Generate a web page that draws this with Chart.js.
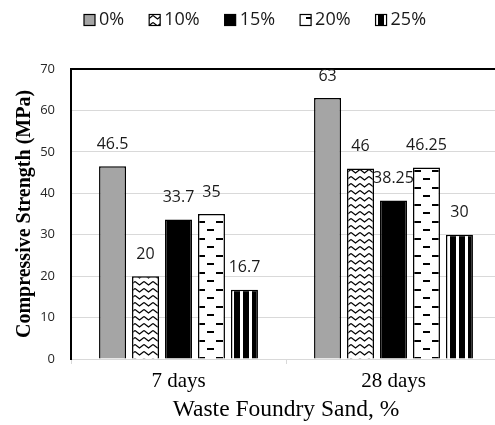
<!DOCTYPE html>
<html>
<head>
<meta charset="utf-8">
<script src="https://cdn.jsdelivr.net/npm/chart.js@4.4.0/dist/chart.umd.min.js"></script>
<style>
  html, body { margin: 0; padding: 0; overflow: hidden; background: #fff; }
  canvas { display: block; }
</style>
</head>
<body>
<canvas id="wfsChart" width="510" height="425"></canvas>
<script>
const ages = ["7 days", "28 days"];
const mixLabels = ["0%", "10%", "15%", "20%", "25%"];
const wfs0 = [46.5, 63];
const wfs10 = [20, 46];
const wfs15 = [33.7, 38.25];
const wfs20 = [35, 46.25];
const wfs25 = [16.7, 30];
const yTicks = [0, 10, 20, 30, 40, 50, 60, 70];

function makePattern(w, h, draw) {
  const c = document.createElement("canvas");
  c.width = w;
  c.height = h;
  const g = c.getContext("2d");
  g.fillStyle = "#fff";
  g.fillRect(0, 0, w, h);
  g.fillStyle = "#000";
  g.strokeStyle = "#000";
  draw(g);
  return g.createPattern(c, "repeat");
}

// zigzag waves
const zigzag = makePattern(9, 7, (g) => {
  g.lineWidth = 1.3;
  g.beginPath();
  g.moveTo(0, 1.5);
  g.lineTo(4.5, 5);
  g.lineTo(9, 1.5);
  g.stroke();
});

// staggered horizontal dashes
const dashes = makePattern(18, 17, (g) => {
  g.fillRect(0, 0, 7, 2);
  g.fillRect(9, 8, 7, 2);
});

// vertical stripes
const stripes = makePattern(9, 1, (g) => {
  g.fillRect(0, 0, 6, 1);
});

const fills = ["#a5a5a5", zigzag, "#000", dashes, stripes];
const series = [wfs0, wfs10, wfs15, wfs20, wfs25];

const valueLabels = {
  id: "valueLabels",
  afterDatasetsDraw(chart) {
    const ctx = chart.ctx;
    ctx.save();
    ctx.font = "16px 'Open Sans'";
    ctx.fillStyle = "#1a1a1a";
    ctx.textAlign = "center";
    ctx.textBaseline = "middle";
    chart.data.datasets.forEach((ds, i) => {
      chart.getDatasetMeta(i).data.forEach((bar, j) => {
        ctx.fillText(String(ds.data[j]), bar.x, bar.y - 22);
      });
    });
    ctx.restore();
  },
};

const topLegend = {
  id: "topLegend",
  afterDraw(chart) {
    const ctx = chart.ctx;
    ctx.save();
    ctx.font = "18px 'Open Sans'";
    ctx.textBaseline = "middle";
    let x = 84;
    const y = 20;
    chart.data.datasets.forEach((ds) => {
      ctx.fillStyle = ds.backgroundColor;
      ctx.fillRect(x, y - 5.5, 11, 11);
      ctx.strokeStyle = "#000";
      ctx.lineWidth = 1.2;
      ctx.strokeRect(x, y - 5.5, 11, 11);
      ctx.fillStyle = "#1a1a1a";
      ctx.fillText(ds.label, x + 15, y);
      x += 15 + ctx.measureText(ds.label).width + 25;
    });
    ctx.restore();
  },
};

new Chart(document.getElementById("wfsChart"), {
  type: "bar",
  data: {
    labels: ages,
    datasets: mixLabels.map((lab, i) => ({
      label: lab,
      data: series[i],
      backgroundColor: fills[i],
      borderColor: "#000",
      borderWidth: 1.5,
      categoryPercentage: 0.767,
      barPercentage: 0.818,
    })),
  },
  options: {
    responsive: false,
    animation: false,
    layout: { padding: { top: 69, right: 9, left: 0, bottom: 0 } },
    plugins: {
      legend: { display: false },
      tooltip: { enabled: false },
    },
    scales: {
      x: {
        afterFit: (s) => { s.height = 66; },
        grid: {
          drawOnChartArea: false,
          drawTicks: true,
          tickLength: 5,
          color: "#d9d9d9",
        },
        border: { color: "#d9d9d9", width: 1 },
        ticks: {
          padding: 5,
          color: "#000",
          font: { family: "'Liberation Serif'", size: 21 },
        },
        title: {
          display: true,
          text: "Waste Foundry Sand, %",
          color: "#000",
          font: { family: "'Liberation Serif'", size: 23.5 },
          padding: { top: 0, bottom: 1 },
        },
      },
      y: {
        min: 0,
        max: 70,
        afterFit: (s) => { s.width = 71; },
        afterBuildTicks: (s) => { s.ticks = yTicks.map((v) => ({ value: v })); },
        grid: {
          drawTicks: false,
          color: (c) => (c.tick && c.tick.value === 70 ? "#000" : "#d9d9d9"),
          lineWidth: (c) => (c.tick && c.tick.value === 70 ? 2 : 1),
        },
        border: { color: "#000", width: 2 },
        ticks: {
          padding: 16,
          color: "#262626",
          font: { family: "'Open Sans'", size: 13 },
        },
        title: {
          display: true,
          text: "Compressive Strength (MPa)",
          color: "#000",
          font: { family: "'Liberation Serif'", size: 20, weight: "bold" },
          padding: { top: 13, bottom: 0 },
        },
      },
    },
  },
  plugins: [valueLabels, topLegend],
});
</script>
</body>
</html>
